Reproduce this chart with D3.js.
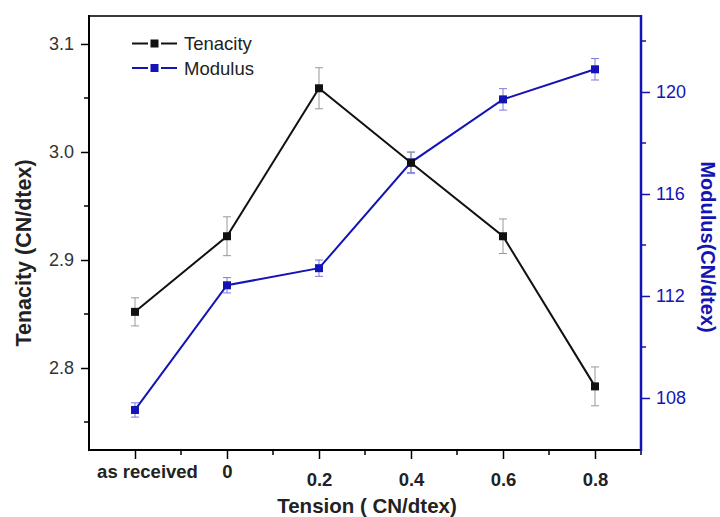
<!DOCTYPE html>
<html>
<head>
<meta charset="utf-8">
<script src="https://cdn.jsdelivr.net/npm/d3@7/dist/d3.min.js"></script>
<style>
  html, body { margin: 0; padding: 0; background: #fff; }
  svg { display: block; font-family: "Liberation Sans", Arial, sans-serif; }
</style>
</head>
<body>
<svg id="chart" width="720" height="517"></svg>
<script>
// Tension treatment levels
const categories = ["as received", "0", "0.2", "0.4", "0.6", "0.8"];
// Tenacity (CN/dtex) with standard deviation
const tenacity    = [2.852, 2.922, 3.059, 2.990, 2.922, 2.783];
const tenacityErr = [0.013, 0.018, 0.019, 0.010, 0.016, 0.018];
// Modulus (CN/dtex) with standard deviation
const modulus     = [107.53, 112.42, 113.09, 117.24, 119.71, 120.89];
const modulusErr  = [0.28, 0.30, 0.32, 0.40, 0.42, 0.42];
// Axis ticks
const leftTicks  = [2.8, 2.9, 3.0, 3.1];
const leftMinor  = [2.75, 2.85, 2.95, 3.05];
const rightTicks = [108, 112, 116, 120];
const rightMinor = [110, 114, 118, 122];

const svg = d3.select("#chart");
const L = 89, R = 641, T = 16, B = 450;
const blue = "#1414b4";
const blueErr = "#7a7ade";

const x = d3.scaleLinear().domain([-0.5, categories.length - 0.5]).range([L, R]);
const yL = d3.scaleLinear().domain([2.7241, 3.1259]).range([B, T]);
const yR = d3.scaleLinear().domain([105.96, 122.98]).range([B, T]);

// frame top
svg.append("line").attr("x1", L).attr("x2", R).attr("y1", T).attr("y2", T)
  .attr("stroke", "#3a3a3a").attr("stroke-width", 2);

// left axis
const gL = svg.append("g").attr("transform", `translate(${L},0)`);
gL.call(d3.axisLeft(yL).tickValues(leftTicks).tickFormat(d3.format(".1f")).tickSize(8).tickPadding(7));
gL.selectAll("text").attr("font-size", 18).attr("fill", "#333");
gL.selectAll(".tick line").attr("stroke-width", 1.5);
gL.select(".domain").remove();
gL.selectAll(".minor").data(leftMinor).enter().append("line")
  .attr("x1", 0).attr("x2", -5).attr("y1", d => yL(d)).attr("y2", d => yL(d))
  .attr("stroke", "#000").attr("stroke-width", 1.5);
svg.append("line").attr("x1", L).attr("x2", L).attr("y1", T - 1).attr("y2", B + 1)
  .attr("stroke", "#000").attr("stroke-width", 2);

// bottom axis
const gB = svg.append("g").attr("transform", `translate(0,${B})`);
gB.call(d3.axisBottom(x).tickValues(d3.range(categories.length)).tickFormat(i => categories[i]).tickSize(9).tickPadding(6));
gB.selectAll("text").attr("font-size", 18.5).attr("font-weight", "bold").attr("fill", "#222")
  .attr("dy", i => i >= 2 ? "1.15em" : "0.71em")
  .attr("dx", i => i === 0 ? 12 : 0);
gB.selectAll(".tick line").attr("stroke-width", 1.5);
gB.select(".domain").remove();
gB.selectAll(".minor").data(d3.range(categories.length).map(i => i + 0.5)).enter().append("line")
  .attr("x1", d => x(d)).attr("x2", d => x(d)).attr("y1", 0).attr("y2", 5)
  .attr("stroke", "#000").attr("stroke-width", 1.5);
svg.append("line").attr("x1", L).attr("x2", R).attr("y1", B).attr("y2", B)
  .attr("stroke", "#000").attr("stroke-width", 2);

// right axis
const gR = svg.append("g").attr("transform", `translate(${R},0)`);
gR.call(d3.axisRight(yR).tickValues(rightTicks).tickSize(9).tickPadding(6));
gR.selectAll("text").attr("font-size", 18).attr("fill", blue);
gR.selectAll(".tick line").attr("stroke", blue).attr("stroke-width", 1.5);
gR.select(".domain").remove();
gR.selectAll(".minor").data(rightMinor).enter().append("line")
  .attr("x1", 0).attr("x2", 5).attr("y1", d => yR(d)).attr("y2", d => yR(d))
  .attr("stroke", blue).attr("stroke-width", 1.5);
svg.append("line").attr("x1", R).attr("x2", R).attr("y1", T - 1).attr("y2", B + 1)
  .attr("stroke", blue).attr("stroke-width", 2.5);

// axis titles
svg.append("text").attr("transform", `translate(31,253) rotate(-90)`)
  .attr("text-anchor", "middle").attr("font-size", 21.5).attr("font-weight", "bold").attr("fill", "#222")
  .text("Tenacity (CN/dtex)");
svg.append("text").attr("transform", `translate(701,247) rotate(90)`)
  .attr("text-anchor", "middle").attr("font-size", 20).attr("font-weight", "bold").attr("fill", blue)
  .text("Modulus(CN/dtex)");
svg.append("text").attr("x", 367).attr("y", 513)
  .attr("text-anchor", "middle").attr("font-size", 20.5).attr("font-weight", "bold").attr("fill", "#222")
  .text("Tension ( CN/dtex)");

// series drawing
function drawSeries(vals, errs, y, lineColor, errColor) {
  const g = svg.append("g");
  const line = d3.line().x((d, i) => x(i)).y(d => y(d));
  const eb = g.selectAll(".eb").data(vals).enter().append("g").attr("stroke", errColor).attr("stroke-width", 1);
  eb.append("line").attr("x1", (d, i) => x(i)).attr("x2", (d, i) => x(i))
    .attr("y1", (d, i) => y(d - errs[i])).attr("y2", (d, i) => y(d + errs[i]));
  eb.append("line").attr("x1", (d, i) => x(i) - 4).attr("x2", (d, i) => x(i) + 4)
    .attr("y1", (d, i) => y(d - errs[i])).attr("y2", (d, i) => y(d - errs[i]));
  eb.append("line").attr("x1", (d, i) => x(i) - 4).attr("x2", (d, i) => x(i) + 4)
    .attr("y1", (d, i) => y(d + errs[i])).attr("y2", (d, i) => y(d + errs[i]));
  g.append("path").datum(vals).attr("d", line).attr("fill", "none")
    .attr("stroke", lineColor).attr("stroke-width", 2);
  g.selectAll("rect").data(vals).enter().append("rect")
    .attr("x", (d, i) => x(i) - 4).attr("y", d => y(d) - 4)
    .attr("width", 8).attr("height", 8).attr("fill", lineColor);
}
drawSeries(modulus, modulusErr, yR, blue, blueErr);
drawSeries(tenacity, tenacityErr, yL, "#111", "#999");

// legend
const legend = [["Tenacity", "#111"], ["Modulus", blue]];
const lg = svg.selectAll(".leg").data(legend).enter().append("g")
  .attr("transform", (d, i) => `translate(132,${43.5 + i * 24.5})`);
lg.append("line").attr("x1", 0).attr("x2", 16).attr("stroke", d => d[1]).attr("stroke-width", 2);
lg.append("line").attr("x1", 29).attr("x2", 45).attr("stroke", d => d[1]).attr("stroke-width", 2);
lg.append("rect").attr("x", 18.5).attr("y", -4).attr("width", 8).attr("height", 8).attr("fill", d => d[1]);
lg.append("text").attr("x", 52).attr("y", 6.5).attr("font-size", 18.5).attr("fill", "#222").text(d => d[0]);
</script>
</body>
</html>
